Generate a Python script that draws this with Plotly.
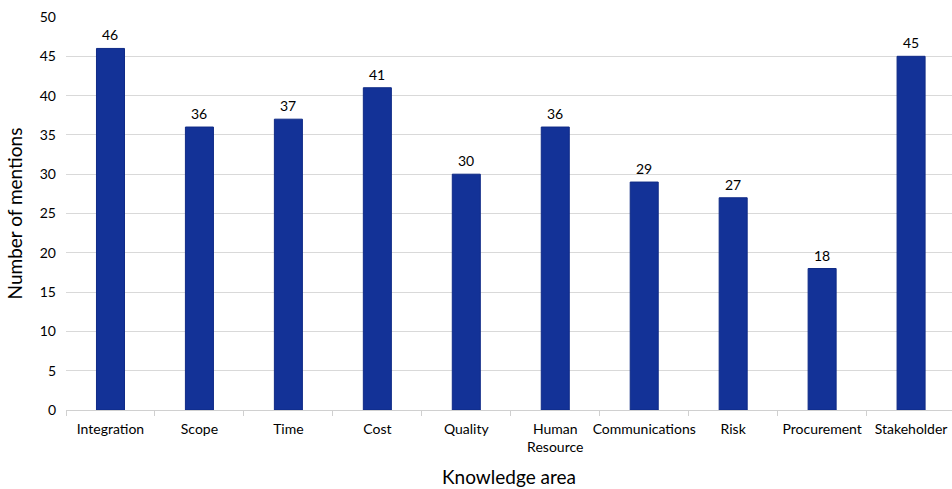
import plotly.graph_objects as go

# Mentions of each PMBOK knowledge area
areas = ["Integration", "Scope", "Time", "Cost", "Quality", "Human<br>Resource",
         "Communications", "Risk", "Procurement", "Stakeholder"]
mentions = [46, 36, 37, 41, 30, 36, 29, 27, 18, 45]
y_ticks = [0, 5, 10, 15, 20, 25, 30, 35, 40, 45, 50]

FONT = "Lato, 'Open Sans', sans-serif"

fig = go.Figure(
    go.Bar(
        x=areas,
        y=mentions,
        marker=dict(color="#133297", line=dict(color="#0f2a86", width=1)),
    )
)

# Value labels above each bar
for a, v in zip(areas, mentions):
    fig.add_annotation(
        x=a, y=v, text=str(v), showarrow=False,
        yanchor="bottom", yshift=3,
        font=dict(size=14, color="#000000", family=FONT),
    )

fig.update_layout(
    width=952,
    height=489,
    margin=dict(l=66, r=0, t=17, b=79),
    plot_bgcolor="white",
    paper_bgcolor="white",
    bargap=0.685,
    showlegend=False,
    font=dict(family=FONT, size=14, color="#000000"),
)

fig.update_xaxes(
    type="category",
    range=[-0.5, 9.46],
    tickangle=0,
    automargin=False,
    showline=True,
    linecolor="#d0d0d0",
    linewidth=1,
    ticks="outside",
    tickson="boundaries",
    ticklen=5,
    tickcolor="#d0d0d0",
    tickfont=dict(size=14),
    ticklabelstandoff=6,
    title=dict(text="Knowledge area", font=dict(size=19), standoff=16),
    showgrid=False,
)

fig.update_yaxes(
    range=[0, 50],
    tickvals=y_ticks,
    automargin=False,
    showgrid=True,
    gridcolor="#d9d9d9",
    gridwidth=1,
    zeroline=False,
    showline=False,
    ticks="",
    tickfont=dict(size=14),
    ticklabelstandoff=9,
    title=dict(text="Number of mentions", font=dict(size=19), standoff=12),
)

fig.write_html("out.html")
